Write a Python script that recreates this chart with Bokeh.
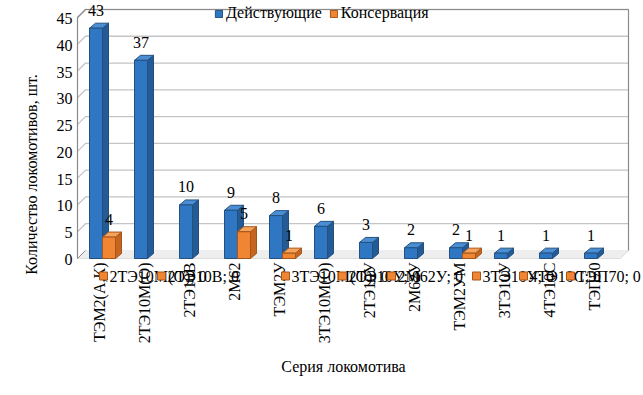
from bokeh.plotting import figure
from bokeh.models import Range1d, Legend, LegendItem
from bokeh.core.properties import value
from bokeh.embed import file_html
from bokeh.resources import INLINE
import math

# ---------------- data ----------------
categories = ["ТЭМ2(А,К)", "2ТЭ10М(О)", "2ТЭ10В", "2М62", "ТЭМ2У", "3ТЭ10М(О)",
              "2ТЭ10У", "2М62У", "ТЭМ2УМ", "3ТЭ10У", "4ТЭ10С", "ТЭП70"]
active = [43, 37, 10, 9, 8, 6, 3, 2, 2, 1, 1, 1]
mothballed = [4, 0, 0, 5, 1, 0, 0, 0, 1, 0, 0, 0]
series_names = ["Действующие", "Консервация"]
y_ticks = [0, 5, 10, 15, 20, 25, 30, 35, 40, 45]
y_title = "Количество локомотивов, шт."
x_title = "Серия локомотива"

# ---------------- layout ----------------
W, H = 643, 395
PXX = 45.0            # px per category
PXY = 5.356           # px per unit
OX, OY = 102.0, 258.0  # screen position of category 0 centre / value 0 (front plane)
FONT_NAME = "Liberation Serif"
FONT = value(FONT_NAME)
FS = "16px"

def sx(px):  # screen x -> data x
    return (px - OX) / PXX

def sy(py):  # screen y -> data y
    return (OY - py) / PXY

p = figure(width=W, height=H, output_backend="svg", toolbar_location=None,
           x_range=Range1d(sx(0), sx(W)), y_range=Range1d(sy(H), sy(0)),
           x_axis_location=None, y_axis_location=None, min_border=0,
           outline_line_color=None, background_fill_color="white")
p.grid.visible = False

ymax = y_ticks[-1]
wall_dx, wall_dy = 8 / PXX, 8 / PXY
FL, FR = sx(77), sx(620)
BL, BR = FL + wall_dx, FR + wall_dx

# floor
p.patch([FL, FR, BR, BL], [0, 0, wall_dy, wall_dy], fill_color="#eeeeee",
        line_color="#dddddd", line_width=1)
# left wall & back wall
p.patch([FL, BL, BL, FL], [0, wall_dy, ymax + wall_dy, ymax], fill_color="white",
        line_color=None)
p.quad(left=BL, right=BR, bottom=wall_dy, top=ymax + wall_dy, fill_color="white",
       line_color=None)
# gridlines
gx, gy = [], []
for t in y_ticks[1:]:
    gx.append([FL, BL, BR])
    gy.append([t, t + wall_dy, t + wall_dy])
p.multi_line(gx, gy, line_color="#c4c4c4", line_width=1.3)
# wall outlines
p.line([FL, FL, BL, BR, BR], [0, ymax, ymax + wall_dy, ymax + wall_dy, wall_dy],
       line_color="#8a8a8a", line_width=1.2)
p.line([FL, BL], [0, wall_dy], line_color="#8a8a8a", line_width=1)

# bars (3D)
bw = 13 / PXX
bdx, bdy = 6 / PXX, 5 / PXY
styles = [
    dict(front="#2f77c3", side="#235b97", top="#4a8fd6", edge="#25507d"),
    dict(front="#f08533", side="#c4661f", top="#f6a35e", edge="#a55618"),
]
front_renderers = []
for s, (vals, st) in enumerate(zip([active, mothballed], styles)):
    fx, fy, sxs, sys_, tx, ty = [], [], [], [], [], []
    for i, v in enumerate(vals):
        if v <= 0:
            continue
        x0 = i - bw if s == 0 else i
        x1 = x0 + bw
        fx.append([x0, x1, x1, x0]); fy.append([0, 0, v, v])
        sxs.append([x1, x1 + bdx, x1 + bdx, x1]); sys_.append([0, bdy, v + bdy, v])
        tx.append([x0, x1, x1 + bdx, x0 + bdx]); ty.append([v, v, v + bdy, v + bdy])
    p.patches(sxs, sys_, fill_color=st["side"], line_color=st["edge"], line_width=1)
    p.patches(tx, ty, fill_color=st["top"], line_color=st["edge"], line_width=1)
    r = p.patches(fx, fy, fill_color=st["front"], line_color=st["edge"], line_width=1)
    front_renderers.append(r)

# value labels
lx, ly, lt = [], [], []
for i, v in enumerate(active):
    lx.append(i - bw / 2); ly.append(v); lt.append(str(v))
for i, v in enumerate(mothballed):
    if v > 0:
        lx.append(i + bw / 2); ly.append(v); lt.append(str(v))
p.text(lx, ly, text=lt, text_font=FONT, text_font_size=FS, text_color="black",
       text_align="center", text_baseline="middle", y_offset=-18)

# y tick labels
p.text([sx(72)] * len(y_ticks), y_ticks, text=[str(t) for t in y_ticks], text_font=FONT,
       text_font_size=FS, text_color="black", text_align="right",
       text_baseline="middle", y_offset=1)

# category labels (vertical)
p.text([i - 3 / PXX for i in range(len(categories))], [sy(262)] * len(categories),
       text=categories, angle=math.pi / 2, text_font=FONT, text_font_size=FS,
       text_color="black", text_align="right", text_baseline="middle")

# labels for zero "Консервация" values (legend-like, overlapping)
zero_label_px = [103, 161, 285, 342, 391, 476, 523, 570]
zero_texts = [f"{c}; {m}" for c, m in zip(categories, mothballed) if m == 0]
zx = [sx(px) for px in zero_label_px[:len(zero_texts)]]
zy = [sy(275.5)] * len(zx)
p.text([x + 6 / PXX for x in zx], zy, text=zero_texts, text_font=FONT,
       text_font_size=FS, text_color="black", text_align="left",
       text_baseline="middle")
p.rect(zx, zy, width=8, height=8, width_units="screen", height_units="screen",
       fill_color=styles[1]["front"], line_color=styles[1]["edge"], line_width=1)

# axis titles
p.text([sx(31)], [sy(174)], text=[y_title], angle=math.pi / 2, text_font=FONT,
       text_font_size=FS, text_color="black", text_align="center",
       text_baseline="middle")
p.text([sx(343)], [sy(366)], text=[x_title], text_font=FONT, text_font_size=FS,
       text_color="black", text_align="center", text_baseline="middle")

# legend
legend = Legend(items=[LegendItem(label=series_names[k], renderers=[front_renderers[k]])
                       for k in range(2)],
                orientation="horizontal", location=(214, H - 22),
                background_fill_alpha=0, border_line_alpha=0, padding=0, margin=0,
                spacing=7, glyph_width=9, glyph_height=9, label_standoff=3,
                label_text_font=FONT_NAME, label_text_font_size=FS,
                label_text_color="black")
p.add_layout(legend)

open("out.html", "w").write(file_html(p, INLINE))
